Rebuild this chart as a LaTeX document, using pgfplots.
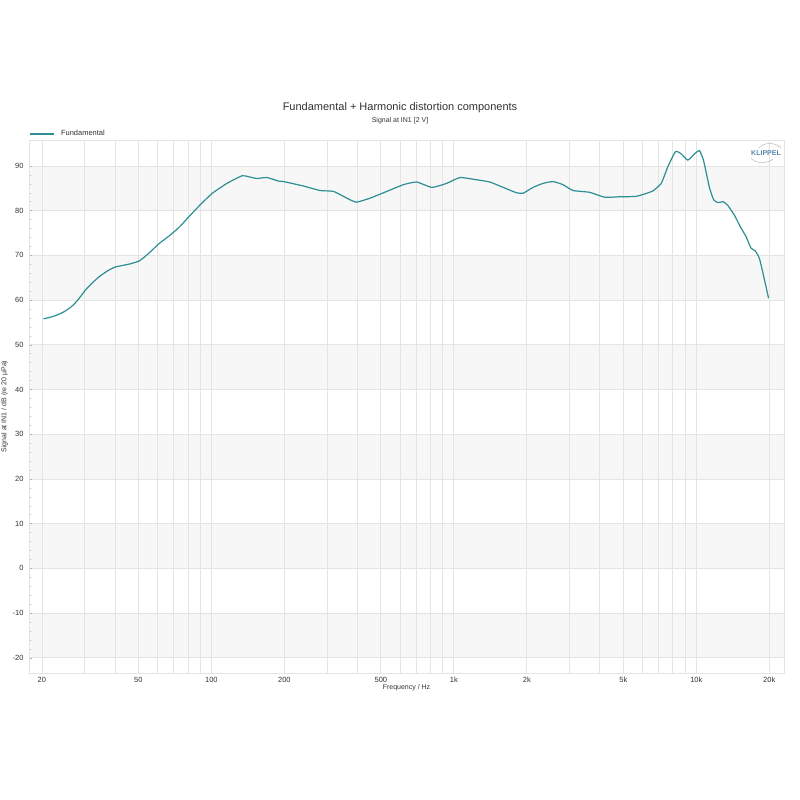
\documentclass[border=0pt]{standalone}
\usepackage{pgfplots}
\pgfplotsset{compat=1.18}
\usepackage{fontspec}
\setmainfont{Liberation Sans}
\definecolor{curve}{RGB}{45,142,147}
\definecolor{gridc}{RGB}{228,228,228}
\definecolor{bandc}{RGB}{247,247,247}
\definecolor{txt}{RGB}{50,50,50}
\definecolor{klip}{RGB}{85,135,175}
\begin{document}
\begin{tikzpicture}[x=1pt,y=1pt]
\path[use as bounding box] (0,0) rectangle (800,800);
\begin{axis}[
  at={(29pt,127pt)}, anchor=south west,
  scale only axis, width=755pt, height=533pt,
  xmode=log, log basis x=10,
  xmin=17.7, xmax=23000, ymin=-23.4, ymax=95.8,
  axis lines=none, ticks=none]
\addplot[draw=none, forget plot] coordinates {(100,0)};
\fill[bandc] (axis cs:17.7,80) rectangle (axis cs:23000,90);
\fill[bandc] (axis cs:17.7,60) rectangle (axis cs:23000,70);
\fill[bandc] (axis cs:17.7,40) rectangle (axis cs:23000,50);
\fill[bandc] (axis cs:17.7,20) rectangle (axis cs:23000,30);
\fill[bandc] (axis cs:17.7,0) rectangle (axis cs:23000,10);
\fill[bandc] (axis cs:17.7,-20) rectangle (axis cs:23000,-10);
\end{axis}
\begin{axis}[
  at={(29pt,127pt)}, anchor=south west,
  scale only axis, width=755pt, height=533pt,
  xmode=log, log basis x=10,
  xmin=17.7, xmax=23000, ymin=-23.4, ymax=95.8,
  xtick={20,50,100,200,500,1000,2000,5000,10000,20000},
  xticklabels={20,50,100,200,500,1k,2k,5k,10k,20k},
  minor xtick={30,40,60,70,80,90,300,400,600,700,800,900,3000,4000,6000,7000,8000,9000},
  ytick={-20,-10,0,10,20,30,40,50,60,70,80,90},
  minor y tick num=4,
  ytick pos=left,
  xmajorgrids, xminorgrids, ymajorgrids,
  grid style={gridc, line width=0.7pt},
  minor grid style={gridc, line width=0.7pt},
  axis line style={gridc, line width=0.7pt},
  x tick style={draw=none},
  minor x tick style={draw=none},
  y tick style={gray!60, line width=0.5pt},
  major tick length=3pt, minor tick length=2pt,
  tick align=inside,
  /pgf/number format/assume math mode=true,
  tick label style={font=\fontsize{7.5}{8}\selectfont, text=txt},
  xticklabel style={yshift=-1pt},
  yticklabel style={xshift=-2pt},
  xlabel={Frequency / Hz},
  ylabel={Signal at IN1 / dB (re 20 µPa)},
  label style={font=\fontsize{7}{8}\selectfont, text=txt},
  xlabel style={yshift=5pt},
  ylabel style={yshift=-2pt},
  legend style={at={(axis description cs:0,1)}, anchor=south west, draw=none, fill=none,
    inner sep=0pt, outer sep=0pt, yshift=1pt,
    font=\fontsize{7.5}{8}\selectfont, text=txt,
    nodes={inner xsep=6pt}},
  legend cell align=left,
  legend image code/.code={\draw[#1, line width=2pt] (0pt,0pt) -- (24pt,0pt);},
  clip=true,
]
\addplot[curve, line width=1.2pt, smooth, tension=0.3] coordinates {
(20.3,55.8) (21.8,56.2) (23.2,56.7) (24.7,57.4) (26,58.2) (27.2,59.1) (28.7,60.6) (30.3,62.3) (32.5,64.0) (35,65.5)
(37.5,66.6) (40.2,67.4) (46.3,68.1) (50.6,68.8) (55.3,70.5) (60.8,72.6) (67.9,74.6)
(73.7,76.3) (81,78.7) (90.3,81.4) (101,83.9) (116,86.1) (133.9,87.8)
(142,87.6) (154,87.2) (169.8,87.4) (189.5,86.6) (198.7,86.5) (240,85.5)
(281,84.5) (319,84.3) (362,82.8) (396,81.9) (452,82.8) (529,84.3)
(619,85.8) (703,86.4) (811,85.2) (934,86.1) (1060,87.4) (1242,86.9)
(1408,86.4) (1598,85.2) (1814,84.0) (1931,83.9) (2122,85.2) (2334,86.1)
(2566,86.5) (2822,85.8) (3102,84.5) (3634,84.1) (4188,83.0) (4826,83.1)
(5656,83.2) (6416,84.1) (6622,84.4) (7169,86.1) (7630,89.8) (8210,93.2)
(8666,92.7) (9224,91.3) (9828,92.7) (10304,93.4) (10702,91.3) (11326,85.2)
(11800,82.4) (12300,81.8) (12900,82.0) (13470,81.2) (14356,79.0) (15294,76.1) (16040,74.2)
(16818,71.6) (17500,71.0) (18190,69.4) (18770,66.4) (19384,63.0) (19866,60.4)
};
\addlegendentry{Fundamental}
\end{axis}
\node[text=txt, font=\fontsize{11}{12}\selectfont] at (400,692) {Fundamental + Harmonic distortion components};
\node[text=txt, font=\fontsize{7}{8}\selectfont] at (400,679) {Signal at IN1 [2 V]};
\node[text=klip, font=\bfseries\fontsize{7}{8}\selectfont] at (766,647) {KLIPPEL};
\draw[gray!55, line width=0.5pt] (759,652) .. controls (764,658) and (775,658) .. (781,652);
\draw[gray!55, line width=0.5pt] (751,642) .. controls (756,636) and (767,636) .. (773,641);
\end{tikzpicture}
\end{document}
